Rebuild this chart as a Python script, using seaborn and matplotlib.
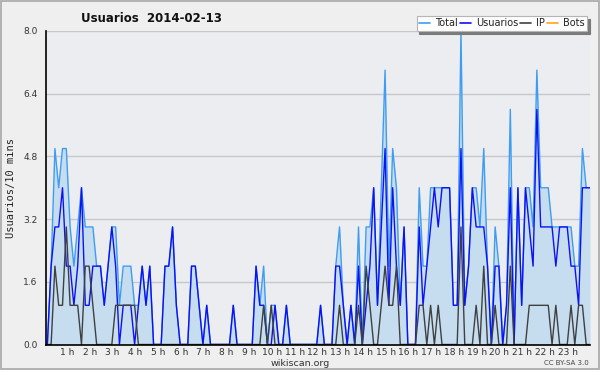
import numpy as np
import pandas as pd
import matplotlib
matplotlib.use("Agg")
import matplotlib.pyplot as plt
from matplotlib.ticker import MultipleLocator
from matplotlib.lines import Line2D
from matplotlib.patches import Rectangle
import seaborn as sns

# ------------------------------------------
# datos: 144 intervalos de 10 minutos
# ------------------------------------------
usuarios = [0, 2, 3, 3, 4, 2, 2, 1, 2, 4, 1, 1, 2, 2, 2, 1, 2, 3, 2, 0,
            1, 1, 1, 0, 1, 2, 1, 2, 0, 0, 0, 2, 2, 3, 1, 0, 0, 0, 2, 2,
            1, 0, 1, 0, 0, 0, 0, 0, 0, 1, 0, 0, 0, 0, 0, 2, 1, 1, 0, 0,
            1, 0, 0, 1, 0, 0, 0, 0, 0, 0, 0, 0, 1, 0, 0, 0, 2, 2, 1, 0,
            1, 0, 2, 0, 1, 2, 4, 1, 3, 5, 1, 4, 2, 1, 3, 0, 0, 0, 3, 1,
            2, 3, 4, 3, 4, 4, 4, 1, 1, 5, 1, 2, 4, 3, 3, 3, 2, 0, 2, 2,
            0, 1, 4, 0, 4, 1, 4, 3, 2, 6, 3, 3, 3, 3, 2, 3, 3, 3, 2, 2,
            1, 4, 4, 4]
ip = [0, 0, 2, 1, 1, 3, 1, 1, 1, 0, 2, 2, 1, 0, 0, 0, 0, 0, 1, 1,
      1, 1, 1, 1, 0, 0, 0, 0, 0, 0, 0, 0, 0, 0, 0, 0, 0, 0, 0, 0,
      0, 0, 0, 0, 0, 0, 0, 0, 0, 0, 0, 0, 0, 0, 0, 0, 0, 1, 0, 1,
      0, 0, 0, 0, 0, 0, 0, 0, 0, 0, 0, 0, 0, 0, 0, 0, 0, 1, 0, 0,
      0, 0, 1, 0, 2, 1, 0, 0, 1, 2, 1, 1, 2, 0, 0, 0, 0, 0, 1, 1,
      0, 1, 0, 1, 0, 0, 0, 0, 0, 3, 0, 0, 0, 1, 0, 2, 0, 0, 1, 0,
      0, 0, 2, 0, 0, 0, 0, 1, 1, 1, 1, 1, 1, 0, 1, 0, 0, 0, 1, 0,
      1, 1, 0, 0]
total = [0, 2, 5, 4, 5, 5, 3, 2, 3, 4, 3, 3, 3, 2, 2, 1, 2, 3, 3, 1,
         2, 2, 2, 1, 1, 2, 1, 2, 0, 0, 0, 2, 2, 3, 1, 0, 0, 0, 2, 2,
         1, 0, 1, 0, 0, 0, 0, 0, 0, 1, 0, 0, 0, 0, 0, 2, 1, 2, 0, 1,
         1, 0, 0, 1, 0, 0, 0, 0, 0, 0, 0, 0, 1, 0, 0, 0, 2, 3, 1, 0,
         1, 0, 3, 0, 3, 3, 4, 1, 4, 7, 2, 5, 4, 1, 3, 0, 0, 0, 4, 2,
         2, 4, 4, 4, 4, 4, 4, 1, 1, 8, 1, 2, 4, 4, 3, 5, 2, 0, 3, 2,
         0, 1, 6, 0, 4, 1, 4, 4, 3, 7, 4, 4, 4, 3, 3, 3, 3, 3, 3, 2,
         2, 5, 4, 4]
bots = [0] * 144

hour_labels = [f"{h} h" for h in range(1, 24)]
y_ticks = [0.0, 1.6, 3.2, 4.8, 6.4, 8.0]

series = ["Total", "Usuarios", "IP", "Bots"]
colors = {"Total": "#3d9df2", "Usuarios": "#0d12f5", "IP": "#404040", "Bots": "#ffa31a"}

df = pd.DataFrame({"slot": np.arange(len(total)), "Total": total,
                   "Usuarios": usuarios, "IP": ip, "Bots": bots})
long = df.melt(id_vars="slot", var_name="serie", value_name="valor")

# ------------------------------------------
# estilo
# ------------------------------------------
sns.set_style("white")
plt.rcParams["font.family"] = ["DejaVu Sans"]

fig = plt.figure(figsize=(6, 3.7), dpi=100, facecolor="#efefef")
ax = fig.add_axes([46 / 600, 1 - 344.5 / 370, 544 / 600, 313.5 / 370])
ax.set_facecolor("#ebedf0")

for y in y_ticks[1:]:
    ax.axhline(y, color="#c8c8c8", lw=1, zorder=0.5)

ax.fill_between(df["slot"], df["Total"], color="#c6dcef", lw=0, zorder=1)

sns.lineplot(data=long[long["serie"] == "Bots"], x="slot", y="valor",
             color=colors["Bots"], lw=1, ax=ax, zorder=1.2, legend=False)
sns.lineplot(data=long[long["serie"] != "Bots"], x="slot", y="valor",
             hue="serie", hue_order=["Total", "Usuarios", "IP"],
             palette=colors, lw=1.0, ax=ax, zorder=2, legend=False)

ax.set_xlim(-0.35, 143)
ax.set_ylim(0, 8)

# ejes
for s in ["top", "right"]:
    ax.spines[s].set_visible(False)
for s in ["left", "bottom"]:
    ax.spines[s].set_color("black")
    ax.spines[s].set_linewidth(1.2)
    ax.spines[s].set_zorder(5)

ax.set_yticks(y_ticks)
ax.set_yticklabels([f"{v:.1f}" for v in y_ticks])
ax.yaxis.set_minor_locator(MultipleLocator(0.4))
ax.tick_params(axis="y", which="major", length=5, width=1, labelsize=6.5,
               pad=1, colors="black", labelcolor="#333333")
ax.tick_params(axis="y", which="minor", length=3, width=1, colors="black")

ax.xaxis.set_minor_locator(MultipleLocator(1))
ax.set_xticks([6 * h - 0.85 for h in range(1, 24)])
ax.set_xticklabels(hour_labels)
ax.tick_params(axis="x", which="major", length=0, labelsize=6.5, pad=2.5,
               labelcolor="#333333")
ax.tick_params(axis="x", which="minor", length=3, width=1, colors="black")

ax.set_xlabel("")
ax.set_ylabel("Usuarios/10 mins", family="DejaVu Sans Mono", fontsize=7.5,
              color="#222222", labelpad=5)

fig.text(151 / 600, 1 - 18 / 370, "Usuarios  2014-02-13", ha="center",
         va="center", fontsize=8.5, fontweight="bold", color="#111111")
fig.text(300 / 600, 1 - 364 / 370, "wikiscan.org", ha="center", va="center",
         fontsize=6.8, color="#333333")
fig.text(589 / 600, 1 - 363 / 370, "CC BY-SA 3.0", ha="right", va="center",
         fontsize=5, color="#444444")

# leyenda
handles = [Line2D([0], [0], color=colors[s], lw=1.2) for s in series]
leg = fig.legend(handles, series, loc="upper right",
                 bbox_to_anchor=(587 / 600, 1 - 16 / 370), ncol=4,
                 fontsize=7, frameon=True, fancybox=False,
                 shadow={"color": "#7a7a7a", "alpha": 1},
                 handlelength=1.15, handletextpad=0.5, columnspacing=0.2,
                 borderpad=0.25, borderaxespad=0)
leg.get_frame().set_facecolor("#fdfdfd")
leg.get_frame().set_edgecolor("#b5b5b5")
leg.get_frame().set_linewidth(0.8)
leg.get_frame().set_alpha(1)
for t in leg.get_texts():
    t.set_color("#222222")

# borde exterior
fig.patches.append(Rectangle((0.001, 0.002), 0.997, 0.995,
                             transform=fig.transFigure, fill=False,
                             edgecolor="#a8a8a8", lw=1.2))

fig.savefig("out.png", dpi=100, facecolor=fig.get_facecolor())
